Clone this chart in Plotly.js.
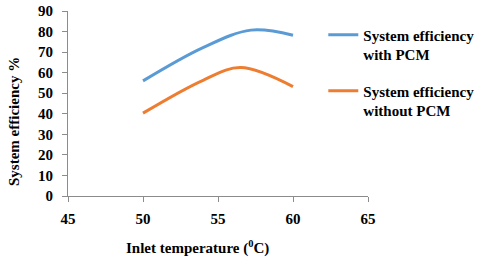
<!DOCTYPE html>
<html><head><meta charset="utf-8">
<script src="https://cdn.plot.ly/plotly-3.0.1.min.js"></script>
<style>html,body{margin:0;padding:0;background:#fff}#c{width:480px;height:262px}</style>
</head><body><div id="c"></div>
<script>
const xWith = [50, 54, 57.2, 60];
const yWith = [56, 72.2, 80.7, 78.2];
const xWithout = [50, 54, 56.5, 60];
const yWithout = [40.3, 56.3, 62.5, 53.2];
const seriesNames = ["System efficiency<br>with PCM", "System efficiency<br>without PCM"];
const xTicks = [45, 50, 55, 60, 65];
const yTicks = [0, 10, 20, 30, 40, 50, 60, 70, 80, 90];
const xTitle = "Inlet temperature (<sup>0</sup>C)";
const yTitle = "System efficiency %";

const FAM = "Liberation Serif";
const traces = [
  {x: xWith, y: yWith, name: seriesNames[0], legendgroup: "a", mode: "lines",
   line: {color: "#5B9BD5", width: 3, shape: "spline", smoothing: 1}},
  {x: xWithout, y: yWithout, name: seriesNames[1], legendgroup: "b", mode: "lines",
   line: {color: "#ED7D31", width: 3, shape: "spline", smoothing: 1}}
];
const layout = {
  width: 480, height: 262,
  margin: {l: 68, r: 112, t: 11, b: 66, autoexpand: false},
  paper_bgcolor: "#fff", plot_bgcolor: "#fff",
  font: {family: FAM, size: 15, color: "#000", weight: "bold"},
  showlegend: true,
  legend: {x: 0.851, y: 0.959, xanchor: "left", yanchor: "top", valign: "top",
           traceorder: "grouped", tracegroupgap: 14, bgcolor: "rgba(0,0,0,0)",
           font: {family: FAM, size: 15, color: "#000", weight: "bold"}},
  xaxis: {range: [45, 65], tickvals: xTicks, showgrid: false, zeroline: false,
          showline: true, linecolor: "#8c8c8c", linewidth: 1, ticks: "outside",
          ticklen: 5, tickcolor: "#8c8c8c", ticklabelstandoff: 4, fixedrange: true,
          automargin: false,
          tickfont: {family: FAM, size: 15, color: "#000", weight: "bold"}},
  yaxis: {range: [0, 90], tickvals: yTicks, showgrid: false, zeroline: false,
          showline: true, linecolor: "#8c8c8c", linewidth: 1, ticks: "outside",
          ticklen: 5, tickcolor: "#8c8c8c", ticklabelstandoff: 6, fixedrange: true,
          automargin: false,
          tickfont: {family: FAM, size: 15, color: "#000", weight: "bold"}},
  annotations: [
    {text: xTitle, xref: "paper", yref: "paper", x: 0.433, y: -0.281, yanchor: "middle",
     xanchor: "center", showarrow: false, font: {family: FAM, size: 15, color: "#000", weight: "bold"}},
    {text: yTitle, xref: "paper", yref: "paper", x: -0.18, y: 0.40, textangle: -90,
     xanchor: "center", yanchor: "middle", showarrow: false, font: {family: FAM, size: 15, color: "#000", weight: "bold"}}
  ]
};
Plotly.newPlot("c", traces, layout, {displayModeBar: false, staticPlot: true});
</script></body></html>
